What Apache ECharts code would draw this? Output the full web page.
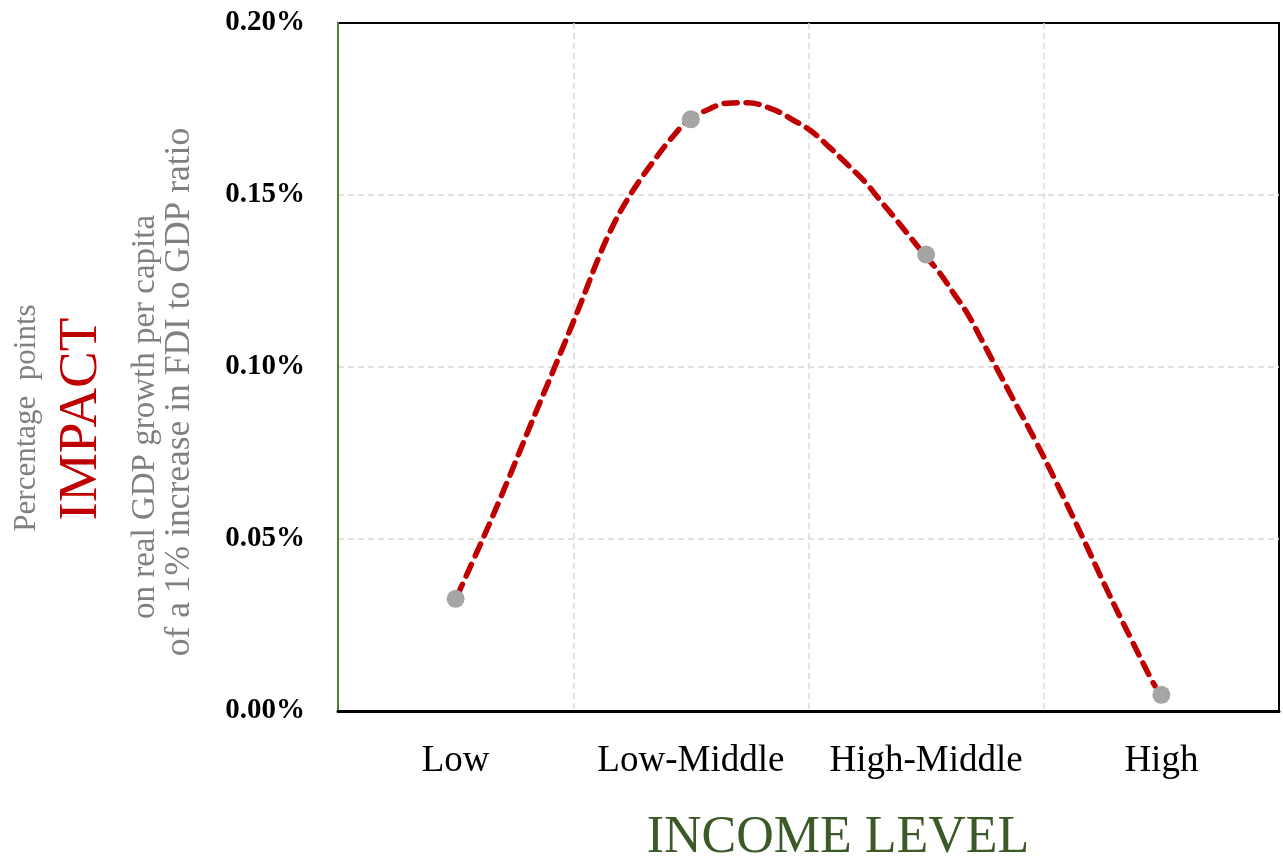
<!DOCTYPE html>
<html>
<head>
<meta charset="utf-8">
<script src="https://cdn.jsdelivr.net/npm/echarts@6/dist/echarts.min.js"></script>
<style>
html,body{margin:0;padding:0;background:#fff;}
#chart{width:1283px;height:860px;}
</style>
</head>
<body>
<div id="chart"></div>
<script>
// Categories and observed impact values (percentage points)
const categories = ['Low', 'Low-Middle', 'High-Middle', 'High'];
const impactValues = [0.0326, 0.1720, 0.1327, 0.0047];

// Trend curve (x in category units, 0.5 = centre of "Low")
const trendX = [0.506, 0.616, 0.718, 0.820, 0.922, 1.029, 1.114, 1.177, 1.233, 1.284, 1.355, 1.411, 1.492, 1.569, 1.654, 1.739, 1.849, 1.934, 2.011, 2.092, 2.168, 2.240, 2.304, 2.368, 2.431, 2.491, 2.559, 2.614, 2.674, 2.729, 2.797, 2.865, 2.963, 3.056, 3.167, 3.269, 3.367, 3.452, 3.473];
const trendY = [0.0334, 0.0501, 0.0664, 0.0834, 0.1001, 0.1180, 0.1328, 0.1422, 0.1490, 0.1544, 0.1611, 0.1660, 0.1719, 0.1747, 0.1767, 0.1768, 0.1749, 0.1718, 0.1686, 0.1637, 0.1587, 0.1538, 0.1485, 0.1432, 0.1379, 0.1328, 0.1272, 0.1217, 0.1157, 0.1088, 0.1000, 0.0913, 0.0788, 0.0661, 0.0502, 0.0352, 0.0215, 0.0099, 0.0073];

// Y-axis tick settings
const yMin = 0, yMax = 0.20, yStep = 0.05;

const trendData = trendX.map((x, i) => [x, trendY[i]]);
const serif = '"Liberation Serif", "DejaVu Serif", serif';

const chart = echarts.init(document.getElementById('chart'));
chart.setOption({
  backgroundColor: '#ffffff',
  animation: false,
  grid: {
    left: 338, right: 4, top: 23, bottom: 149,
    show: true, borderColor: '#000000', borderWidth: 2, backgroundColor: 'transparent'
  },
  xAxis: [
    {
      type: 'category',
      data: categories,
      boundaryGap: true,
      axisLine: { show: true, lineStyle: { color: '#000000', width: 3 } },
      axisTick: { show: false },
      splitLine: { show: true, interval: 0, showMinLine: false, showMaxLine: false, lineStyle: { color: '#d9d9d9', type: [6, 4], width: 1.5 } },
      axisLabel: { interval: 0, margin: 32, color: '#000000', fontFamily: serif, fontSize: 37 }
    },
    {
      type: 'value',
      min: 0, max: 4,
      show: false
    }
  ],
  yAxis: {
    type: 'value',
    min: yMin, max: yMax, interval: yStep,
    axisLine: { show: true, lineStyle: { color: '#548235', width: 2 } },
    axisTick: { show: false },
    splitLine: { show: true, showMinLine: false, showMaxLine: false, lineStyle: { color: '#d9d9d9', type: [6, 4], width: 1.5 } },
    axisLabel: {
      margin: 33, color: '#000000', fontFamily: serif, fontSize: 29, fontWeight: 'bold',
      formatter: v => v.toFixed(2) + '%'
    }
  },
  series: [
    {
      name: 'Trend',
      type: 'line',
      xAxisIndex: 1,
      data: trendData,
      smooth: 0.4,
      showSymbol: false,
      symbol: 'none',
      lineStyle: { color: '#c00000', width: 5.5, type: [13, 9], cap: 'round' },
      z: 2
    },
    {
      name: 'Impact',
      type: 'scatter',
      xAxisIndex: 0,
      data: impactValues,
      symbol: 'circle',
      symbolSize: 18,
      itemStyle: { color: '#a5a5a5', opacity: 1 },
      z: 5
    }
  ],
  graphic: [
    {
      type: 'text', x: 27, y: 418, rotation: Math.PI / 2,
      style: { text: 'Percentage  points', fill: '#808080', font: '31px ' + serif, textAlign: 'center', textVerticalAlign: 'middle' }
    },
    {
      type: 'text', x: 82, y: 419, rotation: Math.PI / 2,
      style: { text: 'IMPACT', fill: '#c00000', font: '55px ' + serif, textAlign: 'center', textVerticalAlign: 'middle' }
    },
    {
      type: 'text', x: 145, y: 417, rotation: Math.PI / 2,
      style: { text: 'on real GDP growth per capita', fill: '#808080', font: '33px ' + serif, textAlign: 'center', textVerticalAlign: 'middle' }
    },
    {
      type: 'text', x: 180, y: 392, rotation: Math.PI / 2,
      style: { text: 'of a 1% increase in FDI to GDP ratio', fill: '#808080', font: '35.5px ' + serif, textAlign: 'center', textVerticalAlign: 'middle' }
    },
    {
      type: 'text', x: 838, y: 838,
      style: { text: 'INCOME LEVEL', fill: '#3b5a28', font: '52px ' + serif, textAlign: 'center', textVerticalAlign: 'middle' }
    }
  ]
});
</script>
</body>
</html>
